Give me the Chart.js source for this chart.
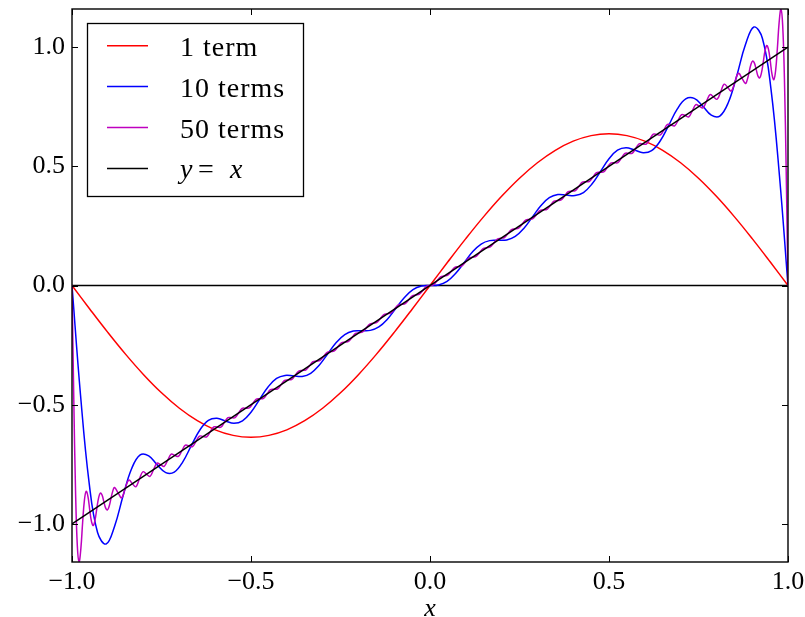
<!DOCTYPE html>
<html>
<head>
<meta charset="utf-8">
<script src="https://cdn.jsdelivr.net/npm/chart.js@4.4.0/dist/chart.umd.min.js"></script>
<style>
html,body{margin:0;padding:0;background:#fff;}
#wrap{width:805px;height:617px;}
</style>
</head>
<body>
<div id="wrap"><canvas id="c" width="805" height="617"></canvas></div>
<script>
// ---- data ----
const xTicks = [-1, -0.5, 0, 0.5, 1];
const xTickLabels = ['\u22121.0', '\u22120.5', '0.0', '0.5', '1.0'];
const yTicks = [-1, -0.5, 0, 0.5, 1];
const yTickLabels = ['\u22121.0', '\u22120.5', '0.0', '0.5', '1.0'];
const seriesNames = ['1 term', '10 terms', '50 terms', 'y = x'];

const x1 = [-1.00,-0.95,-0.90,-0.85,-0.80,-0.75,-0.70,-0.65,-0.60,-0.55,-0.50,-0.45,-0.40,-0.35,-0.30,-0.25,-0.20,-0.15,-0.10,-0.05,
  0.00,0.05,0.10,0.15,0.20,0.25,0.30,0.35,0.40,0.45,0.50,0.55,0.60,0.65,0.70,0.75,0.80,0.85,0.90,0.95,1.00];
const y1 = [0,-0.0996,-0.1967,-0.2890,-0.3742,-0.4502,-0.5150,-0.5672,-0.6055,-0.6288,-0.6366,-0.6288,-0.6055,-0.5672,-0.5150,-0.4502,-0.3742,-0.2890,-0.1967,-0.0996,
  0,0.0996,0.1967,0.2890,0.3742,0.4502,0.5150,0.5672,0.6055,0.6288,0.6366,0.6288,0.6055,0.5672,0.5150,0.4502,0.3742,0.2890,0.1967,0.0996,0];

const x10 = [-1.0000,-0.9762,-0.9524,-0.9286,-0.9048,-0.8810,-0.8571,-0.8333,-0.8095,-0.7857,-0.7619,-0.7381,-0.7143,-0.6905,-0.6667,-0.6429,-0.6190,-0.5952,-0.5714,-0.5476,-0.5238,
  -0.5000,-0.4762,-0.4524,-0.4286,-0.4048,-0.3810,-0.3571,-0.3333,-0.3095,-0.2857,-0.2619,-0.2381,-0.2143,-0.1905,-0.1667,-0.1429,-0.1190,-0.0952,-0.0714,-0.0476,-0.0238,
  0,0.0238,0.0476,0.0714,0.0952,0.1190,0.1429,0.1667,0.1905,0.2143,0.2381,0.2619,0.2857,0.3095,0.3333,0.3571,0.3810,0.4048,0.4286,0.4524,0.4762,
  0.5000,0.5238,0.5476,0.5714,0.5952,0.6190,0.6429,0.6667,0.6905,0.7143,0.7381,0.7619,0.7857,0.8095,0.8333,0.8571,0.8810,0.9048,0.9286,0.9524,0.9762,1.0000];
const y10 = [0,-0.4592,-0.8250,-1.0365,-1.0845,-1.0095,-0.8811,-0.7676,-0.7108,-0.7148,-0.7524,-0.7849,-0.7828,-0.7397,-0.6717,-0.6062,-0.5658,-0.5571,-0.5683,-0.5782,-0.5681,
  -0.5317,-0.4783,-0.4256,-0.3900,-0.3771,-0.3794,-0.3814,-0.3682,-0.3346,-0.2868,-0.2393,-0.2056,-0.1910,-0.1896,-0.1882,-0.1739,-0.1414,-0.0959,-0.0504,-0.0173,-0.0024,
  0,0.0024,0.0173,0.0504,0.0959,0.1414,0.1739,0.1882,0.1896,0.1910,0.2056,0.2393,0.2868,0.3346,0.3682,0.3814,0.3794,0.3771,0.3900,0.4256,0.4783,
  0.5317,0.5681,0.5782,0.5683,0.5571,0.5658,0.6062,0.6717,0.7397,0.7828,0.7849,0.7524,0.7148,0.7108,0.7676,0.8811,1.0095,1.0845,1.0365,0.8250,0.4592,0];

const x50 = [-1.0000,-0.9950,-0.9901,-0.9851,-0.9802,-0.9752,-0.9703,-0.9653,-0.9604,-0.9554,-0.9505,-0.9455,-0.9406,-0.9356,-0.9307,-0.9257,-0.9208,-0.9158,-0.9109,-0.9059,-0.9010,-0.8960,-0.8911,-0.8861,-0.8812,
  -0.8713,-0.8614,-0.8515,-0.8416,-0.8317,-0.8218,-0.8119,-0.8020,-0.7921,-0.7822,-0.7723,-0.7624,-0.7525,-0.7426,-0.7327,-0.7228,-0.7129,-0.7030,-0.6931,-0.6832,-0.6733,-0.6634,-0.6535,-0.6436,-0.6337,-0.6238,-0.6139,-0.6040,-0.5941,-0.5842,-0.5743,-0.5644,-0.5545,-0.5446,-0.5347,-0.5248,-0.5149,-0.5050,
  -0.4950,-0.4851,-0.4752,-0.4653,-0.4554,-0.4455,-0.4356,-0.4257,-0.4158,-0.4059,-0.3960,-0.3861,-0.3762,-0.3663,-0.3564,-0.3465,-0.3366,-0.3267,-0.3168,-0.3069,-0.2970,-0.2871,-0.2772,-0.2673,-0.2574,-0.2475,-0.2376,-0.2277,-0.2178,-0.2079,-0.1980,-0.1881,-0.1782,-0.1683,-0.1584,-0.1485,-0.1386,-0.1287,-0.1188,-0.1089,-0.0990,-0.0891,-0.0792,-0.0693,-0.0594,-0.0495,-0.0396,-0.0297,-0.0198,-0.0099,
  0,
  0.0099,0.0198,0.0297,0.0396,0.0495,0.0594,0.0693,0.0792,0.0891,0.0990,0.1089,0.1188,0.1287,0.1386,0.1485,0.1584,0.1683,0.1782,0.1881,0.1980,0.2079,0.2178,0.2277,0.2376,0.2475,0.2574,0.2673,0.2772,0.2871,0.2970,0.3069,0.3168,0.3267,0.3366,0.3465,0.3564,0.3663,0.3762,0.3861,0.3960,0.4059,0.4158,0.4257,0.4356,0.4455,0.4554,0.4653,0.4752,0.4851,0.4950,
  0.5050,0.5149,0.5248,0.5347,0.5446,0.5545,0.5644,0.5743,0.5842,0.5941,0.6040,0.6139,0.6238,0.6337,0.6436,0.6535,0.6634,0.6733,0.6832,0.6931,0.7030,0.7129,0.7228,0.7327,0.7426,0.7525,0.7624,0.7723,0.7822,0.7921,0.8020,0.8119,0.8218,0.8317,0.8416,0.8515,0.8614,0.8713,
  0.8812,0.8861,0.8911,0.8960,0.9010,0.9059,0.9109,0.9158,0.9208,0.9257,0.9307,0.9356,0.9406,0.9455,0.9505,0.9554,0.9604,0.9653,0.9703,0.9752,0.9802,0.9851,0.9901,0.9950,1.0000];
const y50 = [0,-0.4782,-0.8628,-1.0927,-1.1592,-1.1031,-0.9942,-0.9005,-0.8632,-0.8857,-0.9410,-0.9909,-1.0069,-0.9831,-0.9357,-0.8911,-0.8706,-0.8800,-0.9078,-0.9340,-0.9414,-0.9249,-0.8932,-0.8626,-0.8474,
  -0.8698,-0.8904,-0.8526,-0.8161,-0.8308,-0.8445,-0.8126,-0.7814,-0.7915,-0.8009,-0.7728,-0.7451,-0.7521,-0.7586,-0.7330,-0.7078,-0.7129,-0.7170,-0.6931,-0.6700,-0.6733,-0.6759,-0.6535,-0.6317,-0.6337,-0.6351,-0.6139,-0.5931,-0.5941,-0.5945,-0.5743,-0.5544,-0.5545,-0.5542,-0.5347,-0.5155,-0.5149,-0.5139,
  -0.4950,-0.4764,-0.4752,-0.4738,-0.4554,-0.4373,-0.4356,-0.4338,-0.4158,-0.3981,-0.3960,-0.3938,-0.3762,-0.3588,-0.3564,-0.3539,-0.3366,-0.3195,-0.3168,-0.3140,-0.2970,-0.2801,-0.2772,-0.2742,-0.2574,-0.2407,-0.2376,-0.2345,-0.2178,-0.2013,-0.1980,-0.1947,-0.1782,-0.1618,-0.1584,-0.1550,-0.1386,-0.1223,-0.1188,-0.1153,-0.0990,-0.0827,-0.0792,-0.0756,-0.0594,-0.0432,-0.0396,-0.0360,-0.0198,-0.0036,
  0,
  0.0036,0.0198,0.0360,0.0396,0.0432,0.0594,0.0756,0.0792,0.0827,0.0990,0.1153,0.1188,0.1223,0.1386,0.1550,0.1584,0.1618,0.1782,0.1947,0.1980,0.2013,0.2178,0.2345,0.2376,0.2407,0.2574,0.2742,0.2772,0.2801,0.2970,0.3140,0.3168,0.3195,0.3366,0.3539,0.3564,0.3588,0.3762,0.3938,0.3960,0.3981,0.4158,0.4338,0.4356,0.4373,0.4554,0.4738,0.4752,0.4764,0.4950,
  0.5139,0.5149,0.5155,0.5347,0.5542,0.5545,0.5544,0.5743,0.5945,0.5941,0.5931,0.6139,0.6351,0.6337,0.6317,0.6535,0.6759,0.6733,0.6700,0.6931,0.7170,0.7129,0.7078,0.7330,0.7586,0.7521,0.7451,0.7728,0.8009,0.7915,0.7814,0.8126,0.8445,0.8308,0.8161,0.8526,0.8904,0.8698,
  0.8474,0.8626,0.8932,0.9249,0.9414,0.9340,0.9078,0.8800,0.8706,0.8911,0.9357,0.9831,1.0069,0.9909,0.9410,0.8857,0.8632,0.9005,0.9942,1.1031,1.1592,1.0927,0.8628,0.4782,0];

const xIdent = [-1, 1];
const yIdent = [-1, 1];
const xZero = [-1, 1];
const yZero = [0, 0];

// ---- chart ----
const pts = (xs, ys) => xs.map((x, i) => ({x: x, y: ys[i]}));
const SERIF = "'Liberation Serif', 'Times New Roman', serif";
const colors = ['#ff0000', '#0000ff', '#bf00bf', '#000000'];

const framePlugin = {
  id: 'frame',
  afterDatasetsDraw(chart) {
    const ctx = chart.ctx;
    const a = chart.chartArea;
    const sx = chart.scales.x, sy = chart.scales.y;
    ctx.save();
    ctx.strokeStyle = '#000';
    ctx.lineWidth = 1;
    const tl = 6;
    ctx.beginPath();
    xTicks.forEach(v => {
      const px = Math.round(sx.getPixelForValue(v)) + 0.5;
      ctx.moveTo(px, a.bottom); ctx.lineTo(px, a.bottom - tl);
      ctx.moveTo(px, a.top); ctx.lineTo(px, a.top + tl);
    });
    yTicks.forEach(v => {
      const py = Math.round(sy.getPixelForValue(v)) + 0.5;
      ctx.moveTo(a.left, py); ctx.lineTo(a.left + tl, py);
      ctx.moveTo(a.right, py); ctx.lineTo(a.right - tl, py);
    });
    ctx.stroke();
    ctx.lineWidth = 1.4;
    ctx.strokeRect(a.left, a.top, a.right - a.left, a.bottom - a.top);
    ctx.restore();
  },
  afterDraw(chart) {
    const ctx = chart.ctx;
    ctx.save();
    const bx = 87, by = 23, bw = 216, bh = 173;
    ctx.fillStyle = '#fff';
    ctx.fillRect(bx, by, bw, bh);
    ctx.strokeStyle = '#000';
    ctx.lineWidth = 1.3;
    ctx.strokeRect(bx + 0.5, by + 0.5, bw, bh);
    const rowY0 = 45.7, rowDy = 40.9;
    seriesNames.forEach((name, i) => {
      const ly = rowY0 + i * rowDy;
      ctx.strokeStyle = colors[i];
      ctx.lineWidth = 1.5;
      ctx.beginPath();
      ctx.moveTo(107, ly); ctx.lineTo(148, ly);
      ctx.stroke();
      ctx.fillStyle = '#000';
      ctx.textBaseline = 'alphabetic';
      ctx.textAlign = 'left';
      const base = ly + 10;
      if (name === 'y = x') {
        ctx.font = 'italic 28px ' + SERIF;
        ctx.fillText('y', 180, base);
        ctx.font = '28px ' + SERIF;
        ctx.fillText('=', 198, base);
        ctx.font = 'italic 28px ' + SERIF;
        ctx.fillText('x', 230, base);
      } else {
        ctx.font = '28px ' + SERIF;
        if ('letterSpacing' in ctx) ctx.letterSpacing = '1px';
        ctx.fillText(name, 180, base);
        if ('letterSpacing' in ctx) ctx.letterSpacing = '0px';
      }
    });
    ctx.restore();
  }
};

const lineDs = (label, xs, ys, color, order, tension) => ({
  label: label,
  data: pts(xs, ys),
  borderColor: color,
  backgroundColor: color,
  borderWidth: 1.5,
  pointRadius: 0,
  pointHoverRadius: 0,
  fill: false,
  tension: tension,
  order: order
});

new Chart(document.getElementById('c'), {
  type: 'line',
  data: {
    datasets: [
      lineDs(seriesNames[3], xIdent, yIdent, colors[3], 0, 0),
      lineDs(seriesNames[2], x50, y50, colors[2], 1, 0.4),
      lineDs(seriesNames[1], x10, y10, colors[1], 2, 0.4),
      lineDs(seriesNames[0], x1, y1, colors[0], 3, 0.4),
      lineDs('zero', xZero, yZero, '#000000', 4, 0)
    ]
  },
  options: {
    responsive: false,
    animation: false,
    devicePixelRatio: 1,
    layout: {padding: {left: 0, right: 17, top: 9, bottom: 0}},
    plugins: {legend: {display: false}, tooltip: {enabled: false}},
    events: [],
    scales: {
      x: {
        type: 'linear',
        min: -1, max: 1,
        afterBuildTicks: s => { s.ticks = xTicks.map(v => ({value: v})); },
        afterFit: s => { s.height = 55; s.paddingLeft = 0; s.paddingRight = 0; },
        grid: {display: false, drawTicks: false},
        border: {display: false},
        ticks: {
          autoSkip: false, maxRotation: 0, padding: 5,
          color: '#000',
          font: {family: SERIF, size: 26},
          callback: v => { const i = xTicks.indexOf(v); return i >= 0 ? xTickLabels[i] : ''; }
        },
        title: {display: true, text: 'x', color: '#000', padding: {top: 0, bottom: 0},
          font: {family: SERIF, size: 26, style: 'italic', lineHeight: 0.62}}
      },
      y: {
        type: 'linear',
        min: -1.16, max: 1.16,
        afterBuildTicks: s => { s.ticks = yTicks.map(v => ({value: v})); },
        afterFit: s => { s.width = 72; s.paddingTop = 0; s.paddingBottom = 0; },
        grid: {display: false, drawTicks: false},
        border: {display: false},
        ticks: {
          autoSkip: false, padding: 7,
          color: '#000',
          font: {family: SERIF, size: 26},
          callback: v => { const i = yTicks.indexOf(v); return i >= 0 ? yTickLabels[i] : ''; }
        }
      }
    }
  },
  plugins: [framePlugin]
});
</script>
</body>
</html>
